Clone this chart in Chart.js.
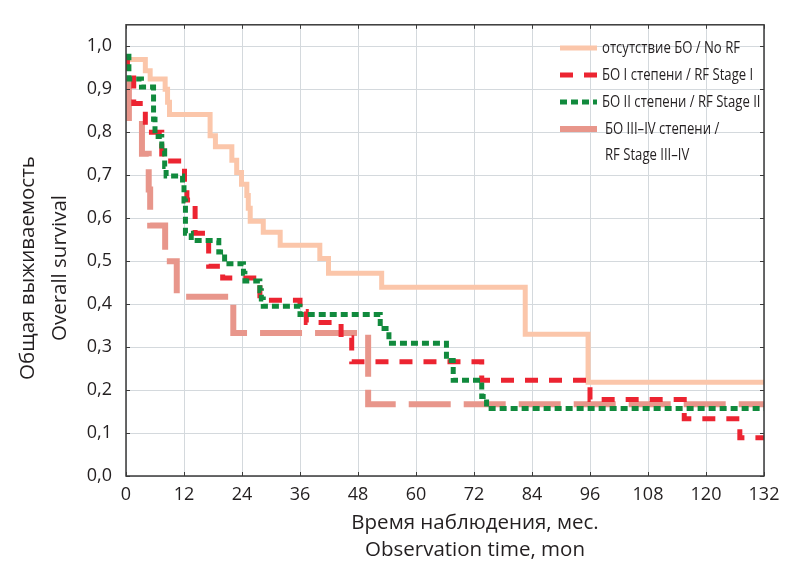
<!DOCTYPE html>
<html><head><meta charset="utf-8">
<script src="https://cdn.jsdelivr.net/npm/chart.js@4.4.1/dist/chart.umd.min.js"></script>
<style>html,body{margin:0;padding:0;background:#fff;}#wrap{width:793px;height:565px;}</style>
</head><body><div id="wrap"><canvas id="c" width="793" height="565"></canvas></div>
<script>
// ---- data ----
const seriesNames = ['отсутствие БО / No RF', 'БО I степени / RF Stage I', 'БО II степени / RF Stage II', ['БО III–IV степени /', 'RF Stage III–IV']];
const xTickValues = [0, 12, 24, 36, 48, 60, 72, 84, 96, 108, 120, 132];
const yTickValues = [0, 0.1, 0.2, 0.3, 0.4, 0.5, 0.6, 0.7, 0.8, 0.9, 1.0];
const yTitleLines = ['Общая выживаемость', 'Overall survival'];
const xTitleLines = ['Время наблюдения, мес.', 'Observation time, mon'];

const noRfTime = [0, 4.0, 5.0, 8.1, 8.6, 9.0, 17.4, 18.5, 21.9, 22.9, 23.9, 25.0, 25.3, 25.7, 28.4, 31.9, 40.1, 41.9, 52.9, 82.6, 95.6, 132];
const noRfSurv = [0.969, 0.943, 0.924, 0.90, 0.87, 0.841, 0.792, 0.766, 0.735, 0.706, 0.679, 0.653, 0.623, 0.593, 0.567, 0.537, 0.506, 0.472, 0.439, 0.33, 0.218, 0.218];

const stage1Time = [0, 0.3, 1.6, 4.0, 7.4, 12.1, 12.6, 14.3, 17.1, 20.0, 27.7, 36.0, 37.3, 44.5, 46.7, 73.6, 96.0, 115.5, 127.0, 132];
const stage1Surv = [0.97, 0.94, 0.867, 0.80, 0.733, 0.667, 0.642, 0.565, 0.488, 0.461, 0.409, 0.383, 0.357, 0.322, 0.266, 0.223, 0.178, 0.133, 0.089, 0.089];

const stage2Time = [0, 0.6, 3.2, 5.7, 6.0, 7.4, 8.0, 8.3, 11.7, 12.0, 12.3, 13.5, 19.2, 20.4, 24.3, 24.6, 27.7, 28.0, 28.4, 36.0, 52.6, 54.4, 66.3, 67.7, 73.6, 74.6, 132];
const stage2Surv = [0.977, 0.924, 0.905, 0.83, 0.79, 0.757, 0.72, 0.698, 0.68, 0.64, 0.565, 0.548, 0.521, 0.494, 0.472, 0.454, 0.431, 0.412, 0.395, 0.376, 0.343, 0.309, 0.269, 0.223, 0.185, 0.157, 0.157];

const stage34Time = [0, 0.6, 3.3, 4.7, 5.0, 8.1, 10.5, 22.2, 50.1, 132];
const stage34Surv = [0.917, 0.833, 0.75, 0.667, 0.583, 0.50, 0.417, 0.333, 0.167, 0.167];

// ---- styles ----
const colNoRf = '#fbc6aa', colS1 = '#ec2431', colS2 = '#118a3d', colS34 = '#e8968b';
const textColor = '#231f20';
const tickFont = { family: "'Open Sans', 'Noto Sans', sans-serif", size: 18 };

function pts(t, s) { return t.map((x, i) => ({ x: x, y: s[i] })); }

const datasets = [
  { label: seriesNames[0], data: pts(noRfTime, noRfSurv), borderColor: colNoRf, borderWidth: 5, order: 3 },
  { label: seriesNames[1], data: pts(stage1Time, stage1Surv), borderColor: colS1, borderWidth: 5, borderDash: [13, 11], order: 1 },
  { label: seriesNames[2], data: pts(stage2Time, stage2Surv), borderColor: colS2, borderWidth: 5, borderDash: [7, 4], order: 0 },
  { label: seriesNames[3].join(' '), data: pts(stage34Time, stage34Surv), borderColor: colS34, borderWidth: 6, borderDash: [42, 13], order: 2 }
].map(d => Object.assign({ stepped: true, pointRadius: 0, pointHoverRadius: 0, fill: false, borderCapStyle: 'butt', borderJoinStyle: 'miter', tension: 0 }, d));

const legendItems = [
  { lines: [seriesNames[0]], color: colNoRf, width: 5, dash: [], y: 48, tx: 602 },
  { lines: [seriesNames[1]], color: colS1, width: 5, dash: [13, 11], y: 75, tx: 602 },
  { lines: [seriesNames[2]], color: colS2, width: 5, dash: [7, 4], y: 102, tx: 602 },
  { lines: seriesNames[3], color: colS34, width: 6, dash: [], y: 129, tx: 605 }
];

const decorPlugin = {
  id: 'decor',
  afterDraw(chart) {
    const ctx = chart.ctx, a = chart.chartArea;
    const xs = chart.scales.x, ys = chart.scales.y;
    ctx.save();
    // frame
    ctx.strokeStyle = '#3a3a3a';
    ctx.lineWidth = 1.5;
    ctx.setLineDash([]);
    ctx.strokeRect(a.left, a.top, a.right - a.left, a.bottom - a.top);
    // inner tick marks
    ctx.lineWidth = 1;
    ctx.beginPath();
    xTickValues.forEach(v => {
      const px = Math.round(xs.getPixelForValue(v)) + 0.5;
      ctx.moveTo(px, a.bottom); ctx.lineTo(px, a.bottom - 4);
      ctx.moveTo(px, a.top); ctx.lineTo(px, a.top + 4);
    });
    yTickValues.forEach(v => {
      const py = Math.round(ys.getPixelForValue(v)) + 0.5;
      ctx.moveTo(a.left, py); ctx.lineTo(a.left + 4, py);
      ctx.moveTo(a.right, py); ctx.lineTo(a.right - 4, py);
    });
    ctx.stroke();

    // legend
    ctx.font = "17px 'Liberation Sans Narrow', 'Open Sans', sans-serif";
    const sx = 138 / ctx.measureText(seriesNames[0]).width;
    legendItems.forEach(it => {
      ctx.strokeStyle = it.color;
      ctx.lineWidth = it.width;
      ctx.lineCap = 'butt';
      ctx.setLineDash(it.dash);
      ctx.beginPath();
      ctx.moveTo(560, it.y); ctx.lineTo(597, it.y);
      ctx.stroke();
      ctx.setLineDash([]);
      ctx.fillStyle = textColor;
      ctx.textBaseline = 'middle';
      ctx.textAlign = 'left';
      it.lines.forEach((ln, k) => {
        ctx.save();
        ctx.translate(it.tx, it.y + k * 26);
        ctx.scale(sx, 1);
        ctx.fillText(ln, 0, 0);
        ctx.restore();
      });
    });

    // axis titles
    ctx.fillStyle = textColor;
    ctx.font = "20.5px 'Open Sans', 'Noto Sans', sans-serif";
    ctx.textAlign = 'center';
    ctx.textBaseline = 'middle';
    ctx.save();
    ctx.translate(28, 268);
    ctx.rotate(-Math.PI / 2);
    yTitleLines.forEach((ln, k) => ctx.fillText(ln, 0, k * 32));
    ctx.restore();
    xTitleLines.forEach((ln, k) => ctx.fillText(ln, 475, 523 + k * 27));
    ctx.restore();
  }
};

new Chart(document.getElementById('c'), {
  type: 'line',
  data: { datasets: datasets },
  options: {
    responsive: false,
    devicePixelRatio: 1,
    animation: false,
    layout: { padding: { top: 11, right: 29, left: 0, bottom: 0 } },
    plugins: { legend: { display: false }, tooltip: { enabled: false } },
    scales: {
      x: {
        type: 'linear', min: 0, max: 132,
        afterBuildTicks: s => { s.ticks = xTickValues.map(v => ({ value: v })); },
        afterFit: s => { s.height = 89; },
        ticks: { font: tickFont, color: textColor, padding: 8, maxRotation: 0, autoSkip: false },
        grid: { color: '#d4d9dd', lineWidth: 1, drawTicks: false },
        border: { display: false }
      },
      y: {
        type: 'linear', min: 0, max: 1.05,
        afterBuildTicks: s => { s.ticks = yTickValues.map(v => ({ value: v })); },
        afterFit: s => { s.width = 126; },
        ticks: { font: tickFont, color: textColor, padding: 14, callback: v => v.toFixed(1).replace('.', ',') },
        grid: { color: '#d4d9dd', lineWidth: 1, drawTicks: false },
        border: { display: false }
      }
    }
  },
  plugins: [decorPlugin]
});
</script>
</body></html>
